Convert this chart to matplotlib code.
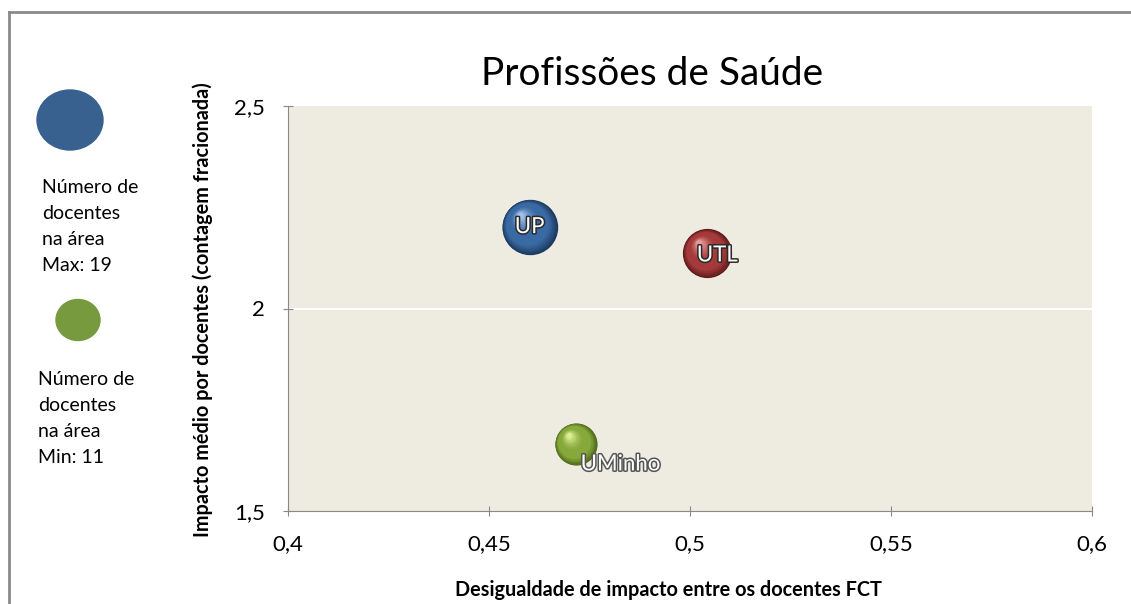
import matplotlib
matplotlib.use('Agg')
import matplotlib.pyplot as plt
import matplotlib.patheffects as pe
from matplotlib.patches import Ellipse
from matplotlib.lines import Line2D
from matplotlib.transforms import offset_copy
import numpy as np

plt.rcParams['font.family'] = ['Lato', 'DejaVu Sans']

# data
names = ['UP', 'UTL', 'UMinho']
desigualdade = [0.4601, 0.5043, 0.4716]
impacto = [2.201, 2.136, 1.665]
docentes = [19, 15, 11]
base_cols = ['#3a6aa3', '#a53a3a', '#87a83a']
dark_cols = ['#1c3a60', '#5e1a1a', '#4f6a1c']
light_cols = ['#a9c8ee', '#eea2a2', '#e2f59c']
xticks = [0.4, 0.45, 0.5, 0.55, 0.6]
yticks = [1.5, 2.0, 2.5]

W, H = 1131, 604
fig = plt.figure(figsize=(W / 100, H / 100), dpi=100)
ax = fig.add_axes([288 / W, 1 - 511 / H, (1092 - 288) / W, (511 - 106) / H])
ax.set_facecolor('#eeece1')

ax.set_xlim(0.4, 0.6)
ax.set_ylim(1.5, 2.5)
ax.set_xticks(xticks)
ax.set_yticks(yticks)
ax.set_xticklabels([('%g' % v).replace('.', ',') for v in xticks], fontsize=16)
ax.set_yticklabels([('%g' % v).replace('.', ',') for v in yticks], fontsize=16)
ax.tick_params(direction='inout', length=7, color='#888888')
ax.tick_params(axis='x', pad=13)
ax.tick_params(axis='y', pad=13)
for s in ['top', 'right']:
    ax.spines[s].set_visible(False)
for s in ['left', 'bottom']:
    ax.spines[s].set_color('#888888')
ax.axhline(2.0, color='white', lw=1.5, zorder=1)

# bubbles with a fake sphere shading
k = 1590 / 19.0
n = 40
for i in range(len(names)):
    s0 = k * docentes[i]
    d0 = np.sqrt(s0)
    # dark rim
    ax.scatter([desigualdade[i]], [impacto[i]], s=s0, color=dark_cols[i], zorder=3, lw=0)
    c1 = np.array(matplotlib.colors.to_rgb(base_cols[i]))
    c2 = np.array(matplotlib.colors.to_rgb(light_cols[i]))
    c0 = np.array(matplotlib.colors.to_rgb(dark_cols[i]))
    for j in range(1, n):
        f = j / n
        d = d0 * (1 - 0.92 * f)
        off = 0.22 * d0 * f
        if f < 0.5:
            col = c0 + (c1 - c0) * min(1, f / 0.25)
        else:
            col = c1 + (c2 - c1) * ((f - 0.5) / 0.5) ** 1.5
        tr = offset_copy(ax.transData, fig=fig, x=-off * 0.8, y=off, units='points')
        ax.scatter([desigualdade[i]], [impacto[i]], s=d ** 2, color=col, zorder=3 + j * 0.001,
                   lw=0, transform=tr)

stroke = [pe.withStroke(linewidth=2.2, foreground='#2a2a2a')]
ax.text(desigualdade[0], impacto[0], names[0], color='white', fontsize=16,
        ha='center', va='center', zorder=5, path_effects=stroke)
ax.text(desigualdade[1] + 0.0025, impacto[1] - 0.005, names[1], color='white', fontsize=16,
        ha='center', va='center', zorder=5, path_effects=stroke)
ax.text(desigualdade[2] + 0.0012, impacto[2] - 0.05, names[2], color='white', fontsize=16,
        ha='left', va='center', zorder=5, path_effects=[pe.withStroke(linewidth=2.2, foreground='#555555')])

fig.text(652 / W, 1 - 74 / H, 'Profissões de Saúde', fontsize=28, ha='center', va='center')
fig.text(668 / W, 1 - 590 / H, 'Desigualdade de impacto entre os docentes FCT',
         fontsize=14.3, fontweight='bold', ha='center', va='center')
fig.text(203 / W, 1 - 310 / H, 'Impacto médio por docentes (contagem fracionada)',
         fontsize=14.3, fontweight='bold', ha='center', va='center', rotation=90)

# side legend
fig.add_artist(Ellipse((70 / W, 1 - 120 / H), 66 / W, 60 / H, transform=fig.transFigure,
                       color='#38618f'))
fig.add_artist(Ellipse((78 / W, 1 - 320 / H), 44 / W, 41 / H, transform=fig.transFigure,
                       color='#779a3e'))
for j, t in enumerate(['Número de', 'docentes', 'na área', 'Max: 19']):
    fig.text(42 / W, 1 - (193 + 26 * j) / H, t, fontsize=14, va='baseline')
for j, t in enumerate(['Número de', 'docentes', 'na área', 'Min: 11']):
    fig.text(38 / W, 1 - (385 + 26 * j) / H, t, fontsize=14, va='baseline')

# outer frame
fig.add_artist(Line2D([8.5 / W, 8.5 / W], [1 - 11.5 / H, 0], transform=fig.transFigure,
                      color='#8a8a8a', lw=2))
fig.add_artist(Line2D([8.5 / W, 1], [1 - 11.5 / H, 1 - 11.5 / H], transform=fig.transFigure,
                      color='#8a8a8a', lw=2))

fig.savefig('out.png', dpi=100)
